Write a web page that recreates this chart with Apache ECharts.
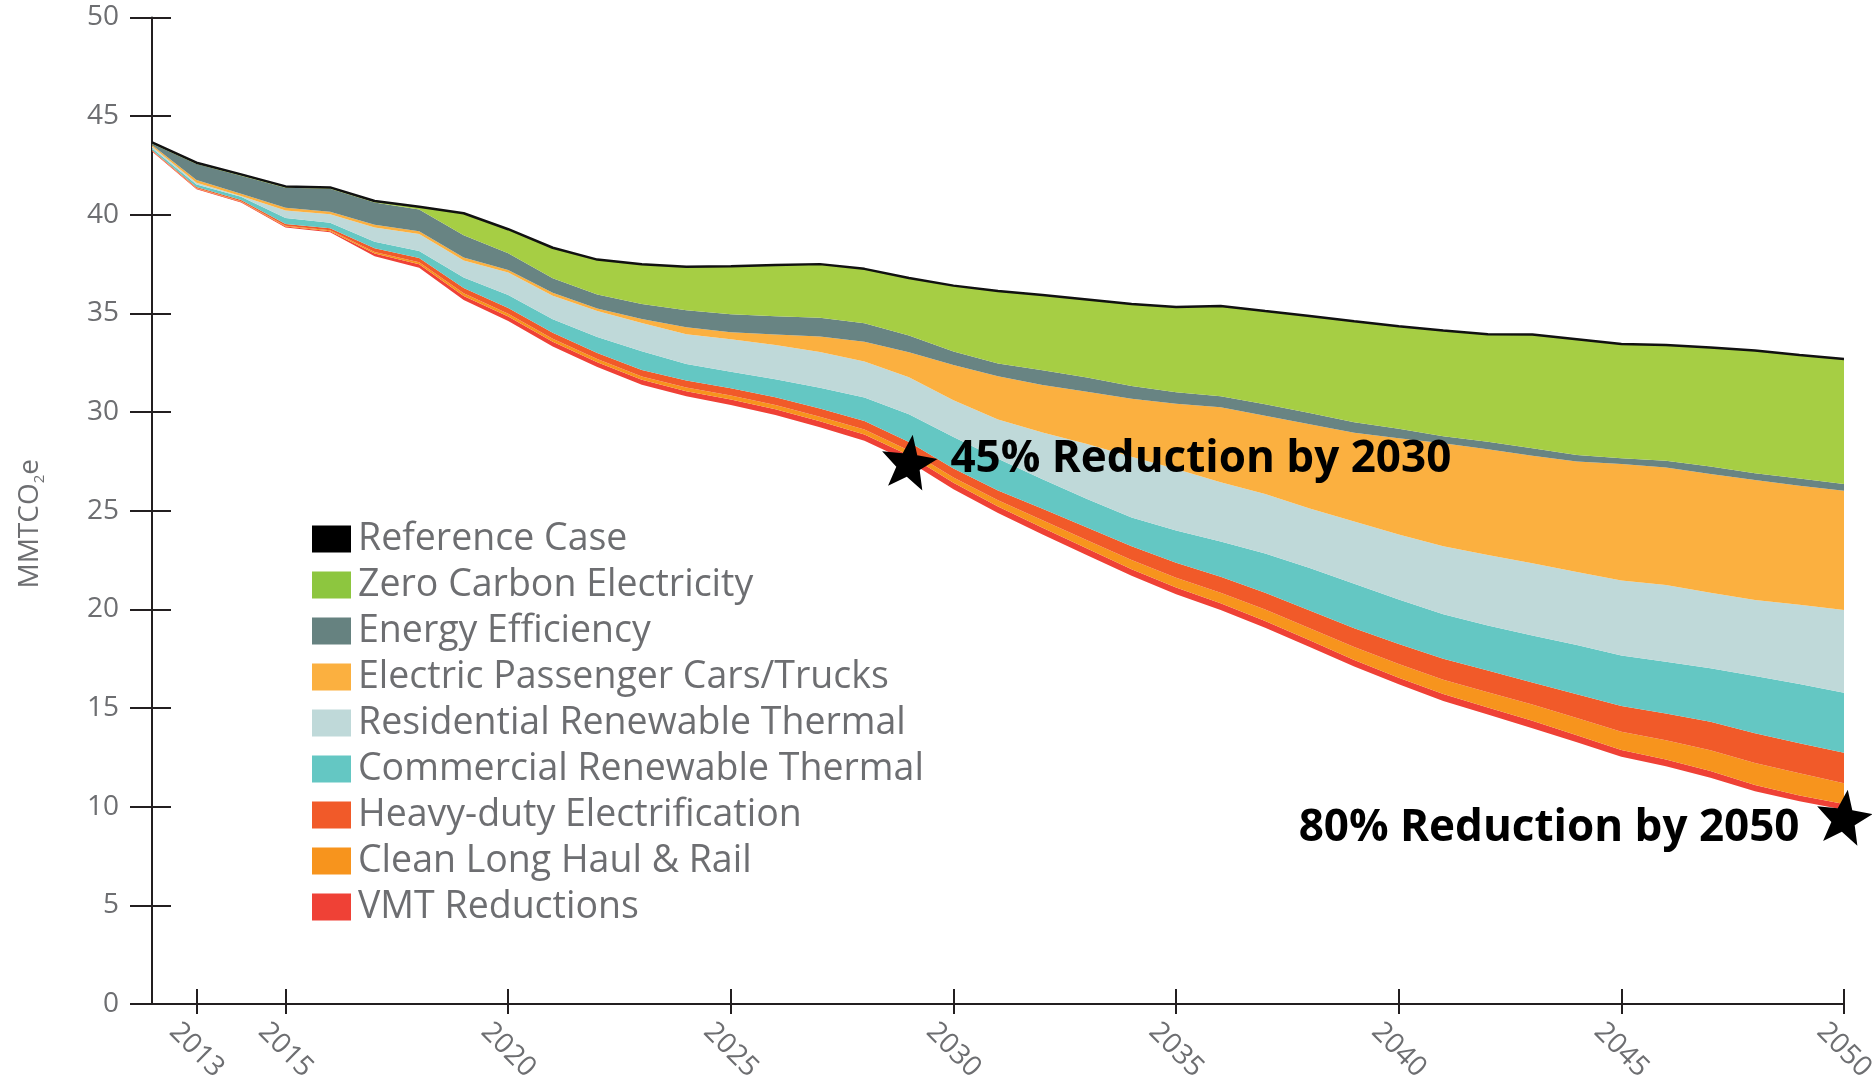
<!DOCTYPE html>
<html>
<head>
<meta charset="utf-8">
<script src="https://cdn.jsdelivr.net/npm/echarts@6/dist/echarts.min.js"></script>
<style>
html,body{margin:0;padding:0;background:#fff;}
#chart{width:1872px;height:1086px;}
</style>
</head>
<body>
<div id="chart"></div>
<script>
// ---------- DATA ----------
const years = ['2012','2013','2014','2015','2016','2017','2018','2019','2020','2021',
  '2022','2023','2024','2025','2026','2027','2028','2029','2030','2031',
  '2032','2033','2034','2035','2036','2037','2038','2039','2040','2041',
  '2042','2043','2044','2045','2046','2047','2048','2049','2050'];
const tickYears = ['2013','2015','2020','2025','2030','2035','2040','2045','2050'];

// Reference case emissions (top line)
const referenceCase = [43.67,42.64,42.05,41.44,41.39,40.70,40.41,40.08,39.27,38.33,
  37.73,37.49,37.37,37.39,37.46,37.50,37.26,36.80,36.41,36.14,
  35.93,35.71,35.48,35.33,35.38,35.12,34.87,34.60,34.35,34.13,
  33.95,33.93,33.69,33.45,33.40,33.27,33.12,32.90,32.69];

// Remaining emissions after all measures (unfilled base of the stack)
const remainingEmissions = [43.21,41.29,40.62,39.36,39.11,37.90,37.32,35.68,34.62,33.33,
  32.28,31.39,30.80,30.36,29.85,29.23,28.55,27.49,26.09,24.88,
  23.80,22.75,21.70,20.77,19.97,19.07,18.10,17.10,16.20,15.36,
  14.67,13.98,13.27,12.53,12.05,11.47,10.78,10.27,9.84];

// Reductions by measure (band thickness), bottom to top
const vmtReductions = [0.03,0.04,0.04,0.05,0.06,0.14,0.17,0.21,0.23,0.24,
  0.25,0.25,0.26,0.28,0.29,0.31,0.32,0.32,0.33,0.34,
  0.34,0.34,0.33,0.34,0.34,0.34,0.34,0.34,0.34,0.35,
  0.36,0.37,0.35,0.34,0.34,0.34,0.32,0.30,0.30];
const cleanLongHaulRail = [0.02,0.03,0.03,0.04,0.05,0.08,0.10,0.13,0.14,0.15,
  0.16,0.17,0.19,0.20,0.22,0.23,0.25,0.25,0.27,0.31,
  0.38,0.42,0.47,0.50,0.54,0.58,0.61,0.65,0.69,0.73,
  0.77,0.83,0.88,0.93,0.98,1.05,1.12,1.12,1.05];
const heavyDutyElectrification = [0.03,0.05,0.06,0.08,0.10,0.18,0.22,0.27,0.29,0.30,
  0.31,0.33,0.35,0.37,0.39,0.41,0.43,0.43,0.45,0.50,
  0.58,0.64,0.70,0.76,0.80,0.86,0.90,0.96,1.02,1.06,
  1.10,1.12,1.20,1.30,1.36,1.45,1.50,1.52,1.55];
const commercialRenewableThermal = [0.08,0.12,0.17,0.31,0.28,0.34,0.36,0.53,0.66,0.68,
  0.81,0.94,0.84,0.84,0.91,1.05,1.19,1.40,1.60,1.60,
  1.50,1.45,1.46,1.63,1.79,1.98,2.15,2.25,2.25,2.25,
  2.28,2.38,2.50,2.56,2.62,2.71,2.91,3.01,3.04];
const residentialRenewableThermal = [0.09,0.10,0.03,0.38,0.43,0.71,0.86,0.86,1.13,1.20,
  1.32,1.44,1.51,1.64,1.74,1.82,1.82,1.88,1.86,1.99,
  2.37,2.78,3.08,3.11,3.01,3.02,3.02,3.15,3.30,3.45,
  3.58,3.66,3.69,3.81,3.89,3.83,3.85,4.01,4.19];
const electricPassenger = [0.08,0.14,0.12,0.14,0.13,0.14,0.14,0.15,0.13,0.15,
  0.12,0.20,0.35,0.36,0.53,0.78,1.01,1.26,1.79,2.20,
  2.40,2.65,2.94,3.31,3.79,3.97,4.26,4.50,4.88,5.22,
  5.36,5.45,5.60,5.90,5.95,6.01,6.08,6.04,6.05];
const energyEfficiency = [0.06,0.80,0.91,1.01,1.16,1.13,1.10,1.13,0.85,0.74,
  0.71,0.76,0.86,0.91,0.93,0.95,0.93,0.85,0.68,0.64,
  0.75,0.72,0.64,0.59,0.56,0.58,0.57,0.53,0.47,0.35,
  0.38,0.38,0.34,0.29,0.35,0.38,0.34,0.36,0.34];
const zeroCarbonElectricity = [0.07,0.07,0.07,0.07,0.07,0.08,0.14,1.12,1.22,1.54,
  1.77,2.01,2.21,2.43,2.60,2.72,2.76,2.92,3.34,3.68,
  3.81,3.96,4.16,4.32,4.58,4.72,4.92,5.12,5.20,5.36,
  5.45,5.76,5.86,5.79,5.86,6.03,6.22,6.27,6.33];

// Target markers
const targetYears = ['2029','2050'];
const targetValues = [27.5, 9.5];
const targetLabels = ['45% Reduction by 2030', '80% Reduction by 2050'];

// ---------- STYLE ----------
const FONT = 'Open Sans';
const GREY = '#6d6e71';
const STAR = 'path://M50,0L62.5,33L97.55,34.55L70,57L79.39,90.45L50,71L20.61,90.45L30,57L2.45,34.55L37.5,33Z';

const bands = [
  {name:'VMT Reductions', data:vmtReductions, color:'#ef4136', legend:'#ef4136'},
  {name:'Clean Long Haul & Rail', data:cleanLongHaulRail, color:'#f7941d', legend:'#f7941d'},
  {name:'Heavy-duty Electrification', data:heavyDutyElectrification, color:'#f15a29', legend:'#f15a29'},
  {name:'Commercial Renewable Thermal', data:commercialRenewableThermal, color:'#64c7c3', legend:'#64c7c3'},
  {name:'Residential Renewable Thermal', data:residentialRenewableThermal, color:'#bfd9d9', legend:'#bfd9d9'},
  {name:'Electric Passenger Cars/Trucks', data:electricPassenger, color:'#fbb040', legend:'#fbb040'},
  {name:'Energy Efficiency', data:energyEfficiency, color:'#688483', legend:'#668280'},
  {name:'Zero Carbon Electricity', data:zeroCarbonElectricity, color:'#a6ce44', legend:'#8dc63f'}
];

const legendOrder = ['Reference Case','Zero Carbon Electricity','Energy Efficiency',
  'Electric Passenger Cars/Trucks','Residential Renewable Thermal','Commercial Renewable Thermal',
  'Heavy-duty Electrification','Clean Long Haul & Rail','VMT Reductions'];

const showTick = (idx, val) => tickYears.indexOf(val) >= 0;

const series = [];
series.push({
  name:'Remaining', type:'line', stack:'total', data:remainingEmissions,
  showSymbol:false, symbol:'none', lineStyle:{width:0, opacity:0},
  areaStyle:{opacity:0}, itemStyle:{color:'rgba(0,0,0,0)'}, silent:true
});
bands.forEach(b => {
  series.push({
    name:b.name, type:'line', stack:'total', data:b.data,
    showSymbol:false, symbol:'none',
    lineStyle:{width:0, opacity:0},
    itemStyle:{color:b.legend},
    areaStyle:{color:b.color, opacity:1}
  });
});
series.push({
  name:'Reference Case', type:'line', data:referenceCase,
  showSymbol:false, symbol:'none',
  lineStyle:{color:'#111', width:2.5},
  itemStyle:{color:'#000'}, z:5
});
series.push({
  name:'Targets', type:'scatter', symbol:STAR, symbolSize:[56,54], symbolRotate:-8, z:10,
  itemStyle:{color:'#000', opacity:1},
  emphasis:{disabled:true},
  data: targetYears.map((y,i) => ({
    value:[y, targetValues[i]],
    label:{
      show:true,
      position: i === 0 ? 'right' : 'left',
      distance: i === 0 ? 10 : 13,
      offset: i === 0 ? [0, -2] : [0, 12],
      formatter: targetLabels[i],
      color:'#000', opacity:1, fontFamily:FONT, fontWeight:'bold', fontSize:44
    }
  }))
});

const chart = echarts.init(document.getElementById('chart'), null, {renderer:'canvas'});
chart.setOption({
  animation:false,
  backgroundColor:'#fff',
  grid:{left:152, right:28, top:17.5, bottom:82, outerBoundsMode:'none', containLabel:false},
  legend:{
    orient:'vertical', left:312, top:520, padding:0, data:legendOrder,
    icon:'rect', itemWidth:39, itemHeight:27, itemGap:8,
    itemStyle:{borderWidth:0},
    textStyle:{fontFamily:FONT, fontSize:37.5, lineHeight:36, color:GREY, padding:[0,0,0,2]}
  },
  xAxis:[{
    type:'category', data:years, boundaryGap:false, position:'bottom',
    axisLine:{show:true, lineStyle:{color:'#231f20', width:2}},
    axisTick:{show:true, interval:showTick, length:10, inside:false, lineStyle:{color:'#231f20', width:2}},
    axisLabel:{show:true, interval:showTick, rotate:-45, align:'center', verticalAlign:'middle',
      margin:46, color:GREY, fontFamily:FONT, fontSize:28},
    splitLine:{show:false}
  },{
    type:'category', data:years, boundaryGap:false, position:'bottom',
    axisLine:{show:false},
    axisTick:{show:true, interval:showTick, length:15, inside:true, lineStyle:{color:'#231f20', width:2}},
    axisLabel:{show:false}, splitLine:{show:false}
  }],
  yAxis:[{
    type:'value', min:0, max:50, interval:5, position:'left',
    name:'MMTCO{sub|2}e', nameLocation:'middle', nameRotate:90, nameGap:105,
    nameTextStyle:{color:GREY, fontFamily:FONT, fontSize:28, lineHeight:34, padding:[0,26,0,0],
      rich:{sub:{fontSize:15, lineHeight:16, verticalAlign:'bottom', color:GREY, fontFamily:FONT}}},
    axisLine:{show:true, lineStyle:{color:'#231f20', width:2}},
    axisTick:{show:true, length:22, inside:false, lineStyle:{color:'#231f20', width:2}},
    axisLabel:{color:GREY, fontFamily:FONT, fontSize:28, margin:33},
    splitLine:{show:false}
  },{
    type:'value', min:0, max:50, interval:5, position:'left',
    axisLine:{show:false},
    axisTick:{show:true, length:19, inside:true, lineStyle:{color:'#231f20', width:2}},
    axisLabel:{show:false}, splitLine:{show:false}
  }],
  series: series
});
</script>
</body>
</html>
